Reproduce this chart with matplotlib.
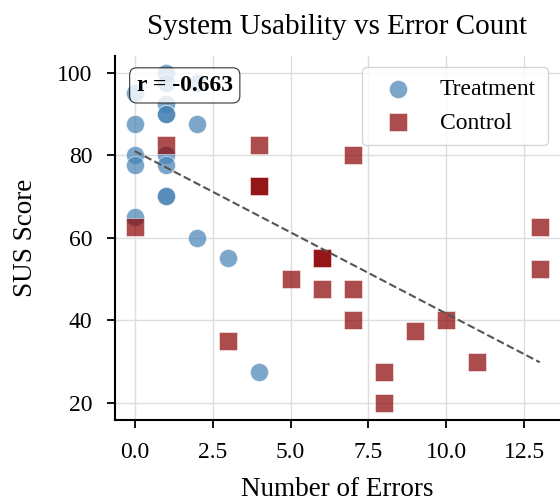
import numpy as np
import matplotlib.pyplot as plt

plt.rcParams['font.family'] = ['Liberation Serif', 'DejaVu Serif']

# Treatment group (errors, SUS score)
treat_err = [0, 0, 0, 0, 0, 1, 1, 1, 1, 1, 1, 1, 1, 1, 2, 2, 2, 3, 4]
treat_sus = [95, 87.5, 80, 77.5, 65, 100, 97.5, 92.5, 90, 90, 80, 77.5, 70, 70,
             97.5, 87.5, 60, 55, 27.5]

# Control group
ctrl_err = [0, 1, 3, 4, 4, 4, 5, 6, 6, 6, 7, 7, 7, 8, 8, 9, 10, 11, 13, 13]
ctrl_sus = [62.5, 82.5, 35, 82.5, 72.5, 72.5, 50, 55, 55, 47.5, 80, 47.5, 40,
            27.5, 20, 37.5, 40, 30, 62.5, 52.5]

r_label = "r = -0.663"

fig = plt.figure(figsize=(5.6, 5.03), dpi=100)
ax = fig.add_axes([114.5 / 560, 83.5 / 503, 445.5 / 560, 363.5 / 503])

ax.scatter(treat_err, treat_sus, s=170, marker='o', color='#4682B4', alpha=0.7,
           edgecolor='white', linewidth=0.5, label='Treatment', zorder=3)
ax.scatter(ctrl_err, ctrl_sus, s=170, marker='s', color='#8B0000', alpha=0.7,
           edgecolor='white', linewidth=0.5, label='Control', zorder=3)

# regression over all points
all_x = np.array(treat_err + ctrl_err, dtype=float)
all_y = np.array(treat_sus + ctrl_sus, dtype=float)
slope, inter = np.polyfit(all_x, all_y, 1)
xs = np.array([all_x.min(), all_x.max()])
ax.plot(xs, slope * xs + inter, '--', color='#555555', linewidth=1.5, zorder=4)

ax.text(0.05, 0.948, r_label, transform=ax.transAxes, fontsize=17, fontweight='bold',
        va='top', ha='left', zorder=5,
        bbox=dict(boxstyle='round,pad=0.3', facecolor='white', edgecolor='black',
                  linewidth=0.8, alpha=0.8))

ax.set_xlim(-0.65, 13.65)
ax.set_ylim(16, 104)
ax.set_xticks([0, 2.5, 5, 7.5, 10, 12.5])
ax.set_xticklabels(['0.0', '2.5', '5.0', '7.5', '10.0', '12.5'])
ax.set_yticks([20, 40, 60, 80, 100])
ax.tick_params(labelsize=17, width=1.3, length=6)
ax.tick_params(axis='x', pad=10.5)
ax.tick_params(axis='y', pad=10)

ax.grid(True, color='#dddddd', linewidth=1, zorder=0)
ax.set_axisbelow(True)
for side in ['top', 'right']:
    ax.spines[side].set_visible(False)
for side in ['left', 'bottom']:
    ax.spines[side].set_linewidth(1.5)

ax.set_xlabel('Number of Errors', fontsize=19.5)
ax.xaxis.set_label_coords(0.5, -0.157)
ax.set_ylabel('SUS Score', fontsize=19.5)
ax.yaxis.set_label_coords(-0.172, 0.5)
ax.set_title('System Usability vs Error Count', fontsize=21, pad=16)

leg = ax.legend(loc='upper right', fontsize=17, frameon=True, fancybox=True,
                edgecolor='#cccccc', framealpha=0.8, borderpad=0.5, borderaxespad=0,
                bbox_to_anchor=(0.973, 0.97))
leg.set_zorder(6)

fig.savefig('out.png', dpi=100)
